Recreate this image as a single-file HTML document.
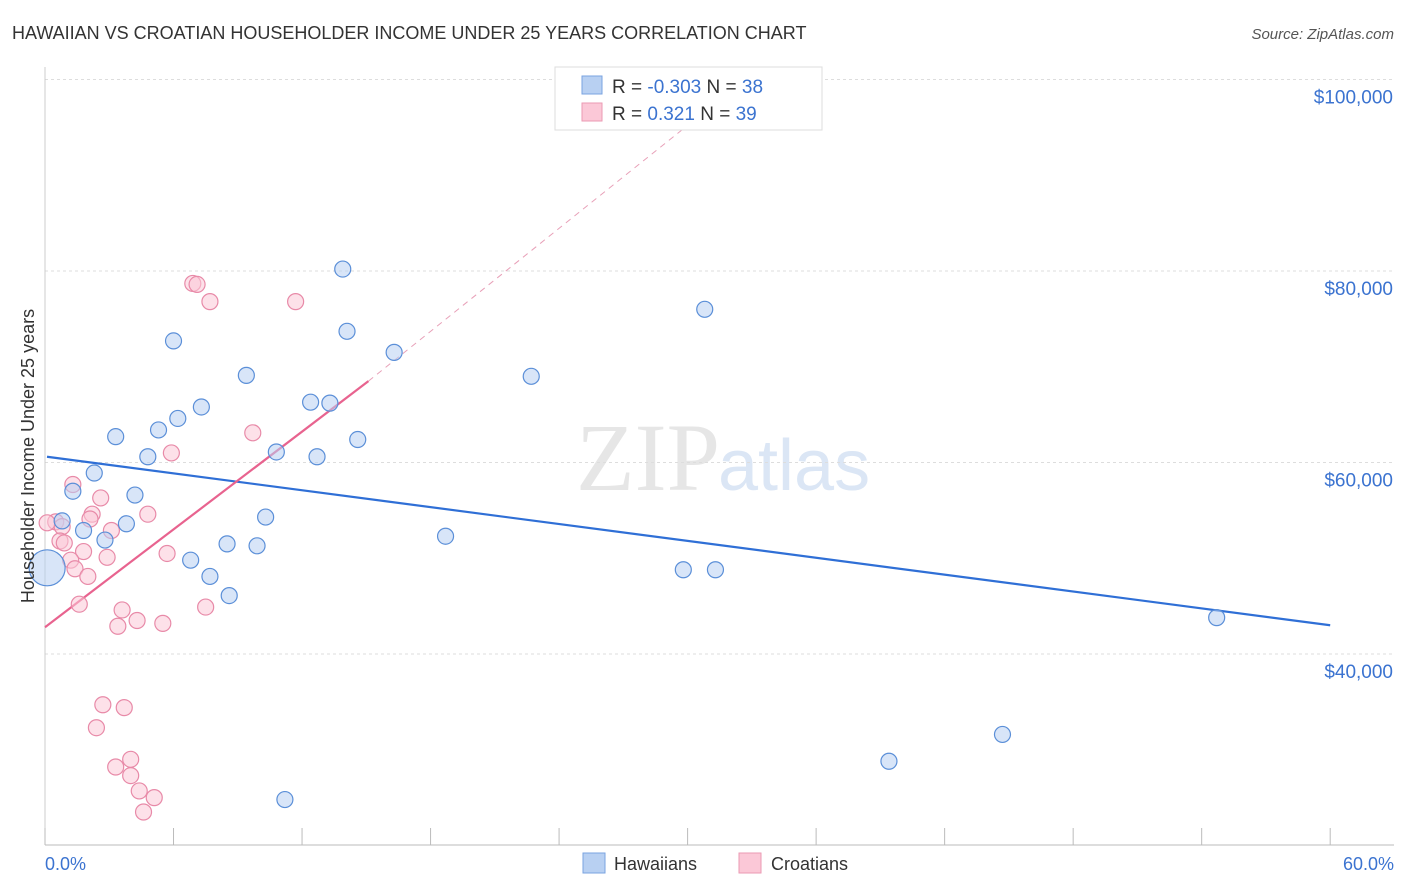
<!DOCTYPE html>
<html><head><meta charset="utf-8"><style>
body{margin:0;background:#fff;font-family:"Liberation Sans",sans-serif;}
svg{display:block}
</style></head><body>
<svg id="chart" width="1406" height="892" xmlns="http://www.w3.org/2000/svg">
<text x="12" y="39" font-size="18" fill="#333">HAWAIIAN VS CROATIAN HOUSEHOLDER INCOME UNDER 25 YEARS CORRELATION CHART</text>
<text x="1394" y="39" font-size="15" fill="#555" text-anchor="end" font-style="italic">Source: ZipAtlas.com</text>
<text x="720" y="490" font-size="96" fill="#e6e6e6" text-anchor="end" font-family="Liberation Serif,serif">ZIP</text>
<text x="718" y="490" font-size="72" fill="#dbe6f5">atlas</text>
<g id="grid"></g><g id="axes"></g><g id="lines"></g><g id="pts"></g>
<text transform="translate(34,456) rotate(-90)" font-size="18" fill="#333" text-anchor="middle">Householder Income Under 25 years</text>
<text x="45" y="870" font-size="18" fill="#3b73d0">0.0%</text>
<text x="1394" y="870" font-size="18" fill="#3b73d0" text-anchor="end">60.0%</text>
<g>
<rect x="555" y="67" width="267" height="63" fill="#fff" stroke="#ddd"/>
<rect x="582" y="76" width="20" height="18" fill="#b8d0f2" stroke="#7aa3e0"/>
<rect x="582" y="103" width="20" height="18" fill="#fbc8d7" stroke="#eb9ab3"/>
<text x="612" y="93" font-size="19" fill="#333">R = <tspan fill="#3b73d0">-0.303</tspan>   N = <tspan fill="#3b73d0">38</tspan></text>
<text x="612" y="120" font-size="19" fill="#333">R =  <tspan fill="#3b73d0"> 0.321</tspan>   N = <tspan fill="#3b73d0">39</tspan></text>
</g>
<g>
<rect x="583" y="853" width="22" height="20" fill="#b8d0f2" stroke="#7aa3e0"/>
<text x="614" y="870" font-size="18" fill="#333">Hawaiians</text>
<rect x="739" y="853" width="22" height="20" fill="#fbc8d7" stroke="#eb9ab3"/>
<text x="771" y="870" font-size="18" fill="#333">Croatians</text>
</g>
</svg>
<script>
const yTicks=[40000,60000,80000,100000];
const yTickLabels=["$40,000","$60,000","$80,000","$100,000"];
const xTicks=[0,6,12,18,24,30,36,42,48,54,60];
const hawX=[13.9,14.1,6.0,16.3,9.4,22.7,30.8,7.3,6.2,12.4,13.3,5.3,3.3,14.6,10.8,4.8,12.7,2.3,1.3,4.2,10.3,3.8,0.8,1.8,2.8,8.5,9.9,6.8,18.7,29.8,31.3,7.7,8.6,54.7,44.7,39.4,11.2,0.1];
const hawY=[80200,73700,72700,71500,69100,69000,76000,65800,64600,66300,66200,63400,62700,62400,61100,60600,60600,58900,57000,56600,54300,53600,53900,52900,51900,51500,51300,49800,52300,48800,48800,48100,46100,43800,31600,28800,24800,49000];
const croX=[6.9,7.1,7.7,11.7,9.7,5.9,1.3,2.6,4.8,2.2,2.1,0.5,0.8,3.1,0.1,0.7,0.9,1.8,2.9,5.7,1.2,1.4,2.0,1.6,7.5,3.6,4.3,3.4,5.5,2.7,3.7,2.4,4.0,3.3,4.0,4.4,5.1,4.6];
const croY=[78700,78600,76800,76800,63100,61000,57700,56300,54600,54600,54100,53800,53300,52900,53700,51800,51600,50700,50100,50500,49800,48900,48100,45200,44900,44600,43500,42900,43200,34700,34400,32300,29000,28200,27300,25700,25000,23500];
const hawLine=[0,60600,60,43000];
const croLine=[0,42800,15.1,68500,31,97000];
const X=v=>45+v*21.42, Y=v=>654-(v-40000)*191.5/20000;
const NS="http://www.w3.org/2000/svg";
function mk(p,t,a){const e=document.createElementNS(NS,t);for(const k in a)e.setAttribute(k,a[k]);document.getElementById(p).appendChild(e);return e;}
yTicks.forEach((v,i)=>{
 const g=mk('grid','line',{x1:45,x2:1394,y1:Y(v),y2:Y(v),stroke:'#ddd','stroke-dasharray':'3,3'});
 
 
 const t=mk('grid','text',{x:1393,y:Y(v)+24,'font-size':19,fill:'#3b73d0','text-anchor':'end'});
 t.textContent=yTickLabels[i];
 
 
});
const ax=mk('axes','line',{x1:45,x2:1394,y1:845,y2:845,stroke:'#bbb'});


const ay=mk('axes','line',{x1:45,x2:45,y1:67,y2:845,stroke:'#ccc'});


xTicks.forEach(v=>{const t=mk('axes','line',{x1:X(v),x2:X(v),y1:828,y2:845,stroke:'#bbb'});
 
 });
function dots(xs,ys,fill,stroke,name){xs.forEach((x,i)=>{const big=i===xs.length-1&&name==='hawaiian-point';
 const c=mk('pts','circle',{cx:X(x),cy:Y(ys[i]),r:big?18:8,fill:fill,'fill-opacity':0.55,stroke:stroke,'stroke-width':1.2});
 
 });}
dots(croX,croY,'#fbc8d7','#e88aa8','croatian-point');
dots(hawX,hawY,'#b8d0f2','#5b8fd8','hawaiian-point');
const bl=mk('lines','line',{x1:X(hawLine[0])+2,y1:Y(hawLine[1]),x2:X(hawLine[2]),y2:Y(hawLine[3]),stroke:'#2f6fd6','stroke-width':2.2});


const pl=mk('lines','line',{x1:X(croLine[0]),y1:Y(croLine[1]),x2:X(croLine[2]),y2:Y(croLine[3]),stroke:'#e8638f','stroke-width':2.2});


const pd=mk('lines','line',{x1:X(croLine[2]),y1:Y(croLine[3]),x2:X(croLine[4]),y2:Y(croLine[5]),stroke:'#e8a0b8','stroke-width':1,'stroke-dasharray':'6,5'});


</script>
</body></html>
